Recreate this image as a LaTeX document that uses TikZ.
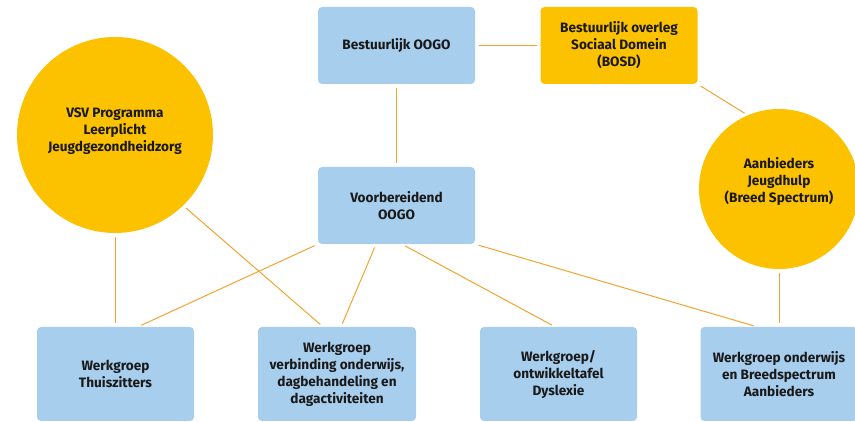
\documentclass[tikz,border=0pt]{standalone}
\usepackage{fontspec}
\setmainfont{Fira Sans}
\usepackage{xcolor}
\usetikzlibrary{calc}
\definecolor{boxblue}{RGB}{168,206,238}
\definecolor{sungold}{RGB}{252,194,0}
\definecolor{linkor}{RGB}{242,164,48}

\begin{document}
\begin{tikzpicture}[x=1pt,y=1pt,
    every node/.style={font=\bfseries\fontsize{13.6}{17}\selectfont, align=center, text=black!90},
    blok/.style={fill=boxblue, rounded corners=4pt, minimum width=157pt, minimum height=77pt, inner sep=0pt},
    laag/.style={blok, minimum height=94pt},
    geel/.style={blok, fill=sungold},
    bol/.style={circle, fill=sungold, inner sep=0pt},
    link/.style={draw=linkor, line width=1pt, shorten <=3.5pt, shorten >=3.5pt}]
        \useasboundingbox (0,0) rectangle (855,422);
        % bovenste rij
        \node[blok] (oogo) at (396.5,376.5) {Bestuurlijk OOGO};
        \node[geel] (bosd) at (619,376.5) {Bestuurlijk overleg\\Sociaal Domein\\(BOSD)};
        \node[blok] (voor) at (396.5,216.5) {Voorbereidend\\OOGO};
        % cirkels
        \node[bol, minimum size=196pt] (vsv) at (115,287) {};
        \node (vsvtxt) at ($(vsv.center)+(0,4)$) {VSV Programma\\Leerplicht\\Jeugdgezondheidzorg};
        \node[bol, minimum size=160pt] (aanb) at (779,233) {};
        \node (aanbtxt) at ($(aanb.center)+(0,7)$) {Aanbieders\\Jeugdhulp\\(Breed Spectrum)};
        % werkgroepen
        \node[laag] (thuis) at (115.5,48) {Werkgroep\\Thuiszitters};
        \node[laag, minimum width=158pt] (verb) at (337,48) {Werkgroep\\verbinding onderwijs,\\dagbehandeling en\\dagactiviteiten};
        \node[laag] (dys) at (558.5,48) {Werkgroep/\\ontwikkeltafel\\Dyslexie};
        \node[laag] (onder) at (779,48) {Werkgroep onderwijs\\en Breedspectrum\\Aanbieders};

        \path[link] (oogo) -- (bosd);
        \path[link] (oogo) -- (voor);
        \path[link] (bosd.south east) -- (aanb.113);
        \path[link] (aanb.south) -- (aanb.south |- onder.north);
        \path[link] (vsv.south) -- (vsv.south |- thuis.north);
        \path[link] (vsv.-46) -- ([xshift=-14pt]verb.north);
        \path[link] (voor.south west) -- ([xshift=22.5pt]thuis.north);
        \path[link] ([xshift=-20.5pt]voor.south) -- ([xshift=4pt]verb.north);
        \path[link] ([xshift=5.5pt]voor.south) -- ([xshift=-3.5pt]dys.north);
        \path[link] (voor.south east) -- ([xshift=-22pt]onder.north);
      \end{tikzpicture}
\end{document}
